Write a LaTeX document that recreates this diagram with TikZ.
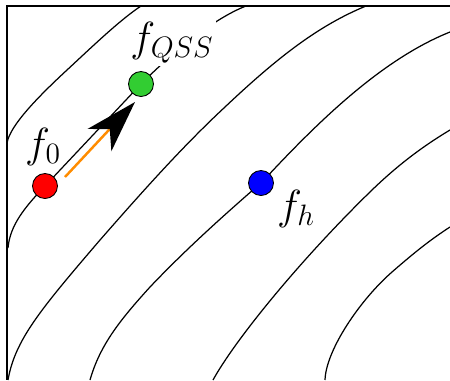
\documentclass[tikz,border=0pt]{standalone}
\usepackage{fix-cm}
\usetikzlibrary{arrows.meta}
\definecolor{dotgreen}{RGB}{50,205,50}
\definecolor{pushorange}{RGB}{255,140,0}

\begin{document}
\begin{tikzpicture}[
    x=0.02cm, y=-0.02cm,
    level/.style={line width=0.7pt},
    frame/.style={line width=0.8pt},
    dot/.style={circle, draw, line width=0.5pt, inner sep=0pt, minimum size=0.5cm},
    tag/.style={inner sep=1.5pt, font=\fontsize{24}{28}\selectfont},
    push/.style={pushorange, line width=1.4pt, -{Stealth[color=black, length=1.04cm, width=0.65cm, inset=0.3cm]}}
]
\useasboundingbox (0,0) rectangle (450,380);
\clip (0,0) rectangle (450,380);

% Axes
\draw[frame] (450,6) -- (7,6) -- (7,380);

% Level curves
\draw[level] (7,143) .. controls (10,125) and (40,95) .. (67,70)
    .. controls (95,44) and (120,20) .. (141,6);
\draw[level] (8,248) .. controls (10,225) and (25,207) .. (45,186)
    .. controls (77,152) and (109,118) .. (141,84)
    .. controls (175,50) and (215,18) .. (246,6);
\draw[level] (8,380) .. controls (15,340) and (40,310) .. (100,240)
    .. controls (142,192) and (183,146) .. (225,107)
    .. controls (280,55) and (320,25) .. (366,6);
\draw[level] (90,380) .. controls (100,345) and (120,320) .. (150,287)
    .. controls (190,245) and (230,210) .. (262,182)
    .. controls (315,125) and (380,60) .. (450,32);
\draw[level] (213,380) .. controls (235,340) and (300,260) .. (372,190)
    .. controls (400,163) and (425,145) .. (450,130);
\draw[level] (325,380) .. controls (326,350) and (360,300) .. (392,272)
    .. controls (415,252) and (430,240) .. (450,227);

% Points
\node[dot, fill=red] (f0) at (45,186) {};
\node[dot, fill=dotgreen] (fqss) at (141,84) {};
\node[dot, fill=blue] (fh) at (261,183) {};

% Step
\coordinate (s) at (65,177);
\coordinate (t) at (135,102);
\draw[push] (s) -- (t);

% Labels
\node[tag] (l0) at (43,147) {$f_0$};
\node[tag, fill=white] (lqss) at (172,43) {$f_{QSS}$};
\node[tag] (lh) at (296,209) {$f_h$};

\end{tikzpicture}
\end{document}
